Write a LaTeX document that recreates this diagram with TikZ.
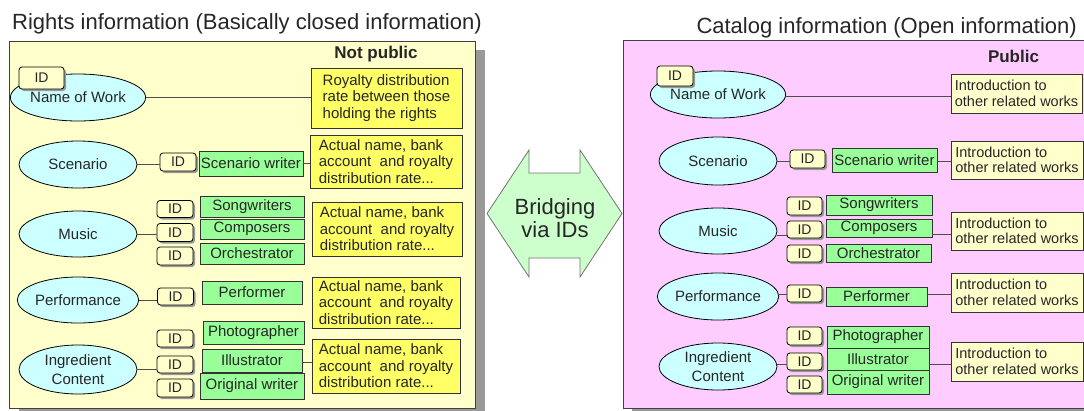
\documentclass[tikz,border=0pt]{standalone}
\usepackage{fontspec}
\setmainfont{Liberation Sans}
\usetikzlibrary{shapes.geometric,shadows}
\definecolor{panelY}{HTML}{FFFFCC}
\definecolor{panelP}{HTML}{FFCCFF}
\definecolor{ellC}{HTML}{CCFFFF}
\definecolor{grn}{HTML}{99FF99}
\definecolor{yel}{HTML}{FFFF66}
\definecolor{idY}{HTML}{FFFFCC}
\definecolor{shd}{HTML}{999999}
\definecolor{brg}{HTML}{CCFFCC}
\definecolor{txt}{HTML}{262626}
\definecolor{lnc}{HTML}{4D4D4D}
\newcommand\myfs[2]{\fontsize{#1}{#2}\selectfont}
\tikzset{
  panelL/.style={draw=black!75, fill=panelY, line width=1pt},
  panelR/.style={draw=black!75, fill=panelP, line width=1pt},
  titletext/.style={inner sep=0pt, text=txt, font=\myfs{22}{24}},
  lbl/.style={inner sep=0pt, text=txt, font=\myfs{17}{19}\bfseries},
  ell/.style={ellipse, draw=black, fill=ellC, line width=0.8pt, inner sep=0pt, text=txt, font=\myfs{15}{19}, align=center},
  idbox/.style={rectangle, rounded corners=3pt, draw=black, fill=idY, line width=0.8pt, inner sep=0pt, text=txt, font=\myfs{14}{16},
     drop shadow={shadow xshift=2pt, shadow yshift=-2pt, fill=shd, opacity=1}},
  gbox/.style={rectangle, draw=black!80, fill=grn, line width=0.8pt, inner sep=0pt, text=txt, font=\myfs{15}{17}},
  ybox/.style={rectangle, draw=black!80, fill=yel, line width=0.8pt, inner sep=0pt, text=txt, font=\myfs{15}{16.5}, align=left},
  ibox/.style={rectangle, draw=black!80, fill=idY, line width=0.8pt, inner sep=0pt, text=txt, font=\myfs{14.5}{15.5}, align=left},
  conn/.style={draw=lnc, line width=1pt},
  bridge/.style={draw=black!55, fill=brg, line width=0.8pt},
  brtext/.style={inner sep=0pt, text=txt, font=\myfs{22}{22.5}, align=center}
}
\begin{document}
\begin{tikzpicture}[x=1pt,y=-1pt]
\useasboundingbox (0,0) rectangle (1084,410);
% panels
\fill[shd] (19,50) rectangle (485,420);
\draw[panelL] (9,41) rectangle (475,408);
\fill[shd] (632,49) rectangle (1100,418);
\draw[panelR] (623,40) rectangle (1095,408);
% titles
\node[titletext, anchor=base west] (tL) at (12,29) {Rights information (Basically closed information)};
\node[titletext, anchor=base east] (tR) at (1077,33) {Catalog information (Open information)};
\node[lbl] (np) at (376,54) {Not public};
\node[lbl] (pub) at (1013.5,56) {Public};
% ---------------- left panel ----------------
\node[ell, minimum width=118, minimum height=47] (e1) at (78,97.5) {Name of Work};
\node[idbox, minimum width=45, minimum height=22] (id1) at (41.5,78) {ID};
\node[ybox, minimum width=151, minimum height=60] (r1) at (386.5,98) {Royalty distribution\\rate between those\\holding the rights};
\draw[conn] (e1.east) -- (e1.east -| r1.west);

\node[ell, minimum width=118, minimum height=47] (e2) at (78,164.5) {Scenario};
\node[idbox, minimum width=36, minimum height=18] (id2) at (178,162) {ID};
\node[gbox, minimum width=104, minimum height=25] (g2) at (251,163.5) {Scenario writer};
\node[ybox, minimum width=152, minimum height=53] (r2) at (386,161.5) {Actual name, bank\\account~ and royalty\\distribution rate...};
\draw[conn] (e2.east) -- (e2.east -| id2.west);
\draw[conn] (g2.east) -- (g2.east -| r2.west);

\node[ell, minimum width=118, minimum height=46] (e3) at (78,234) {Music};
\node[idbox, minimum width=36, minimum height=17] (id3a) at (175,209) {ID};
\node[idbox, minimum width=36, minimum height=18] (id3b) at (175,232.5) {ID};
\node[idbox, minimum width=36, minimum height=18] (id3c) at (175,256) {ID};
\node[gbox, minimum width=104, minimum height=21] (g3a) at (252,206.5) {Songwriters};
\node[gbox, minimum width=104, minimum height=20] (g3b) at (252,229) {Composers};
\node[gbox, minimum width=104, minimum height=21] (g3c) at (252,253.5) {Orchestrator};
\node[ybox, minimum width=150, minimum height=54] (r3) at (387,229) {Actual name, bank\\account~ and royalty\\distribution rate...};
\draw[conn] (e3.east) -- (e3.east -| id3b.west);

\node[ell, minimum width=118, minimum height=46] (e4) at (78,300) {Performance};
\node[idbox, minimum width=36, minimum height=17] (id4) at (175.5,296.5) {ID};
\node[gbox, minimum width=100, minimum height=23] (g4) at (252,292.5) {Performer};
\node[ybox, minimum width=148, minimum height=51] (r4) at (386,302.5) {Actual name, bank\\account~ and royalty\\distribution rate...};
\draw[conn] (e4.east) -- (e4.east -| id4.west);

\node[ell, minimum width=118, minimum height=49] (e5) at (78,369.5) {Ingredient\\Content};
\node[idbox, minimum width=36, minimum height=17] (id5a) at (175,338.5) {ID};
\node[idbox, minimum width=36, minimum height=17] (id5b) at (175,364.5) {ID};
\node[idbox, minimum width=36, minimum height=18] (id5c) at (175,388) {ID};
\node[gbox, minimum width=101, minimum height=23] (g5a) at (253.5,332.5) {Photographer};
\node[gbox, minimum width=100, minimum height=23] (g5b) at (252,360.5) {Illustrator};
\node[gbox, minimum width=104, minimum height=26] (g5c) at (252,386) {Original writer};
\node[ybox, minimum width=148, minimum height=54] (r5) at (386,366) {Actual name, bank\\account~ and royalty\\distribution rate...};
\draw[conn] (e5.east) -- (e5.east -| id5b.west);
\draw[conn] ([yshift=-1.5pt]g5b.east) -- ([yshift=-1.5pt]g5b.east -| r5.west);

% ---------------- bridge ----------------
\draw[bridge] (487,213.5) -- (529,150) -- (529,173) -- (580,173) -- (580,150) -- (622,213.5)
  -- (580,277) -- (580,258) -- (529,258) -- (529,277) -- cycle;
\node[brtext] (bt) at (555,218) {Bridging\\via IDs};

% ---------------- right panel ----------------
\node[ell, minimum width=118, minimum height=47] (E1) at (718,94.5) {Name of Work};
\node[idbox, minimum width=36, minimum height=20] (ID1) at (675,76) {ID};
\node[ibox, minimum width=131, minimum height=39] (I1) at (1016.5,93.5) {Introduction to\\other related works};
\draw[conn] ([yshift=-1.5pt]E1.east) -- ([yshift=-1.5pt]E1.east -| I1.west);

\node[ell, minimum width=118, minimum height=48] (E2) at (718,161) {Scenario};
\node[idbox, minimum width=35, minimum height=18] (ID2) at (807.5,159) {ID};
\node[gbox, minimum width=105, minimum height=24] (G2) at (884.5,160) {Scenario writer};
\node[ibox, minimum width=132, minimum height=38] (I2) at (1017,160) {Introduction to\\other related works};
\draw[conn] (E2.east) -- (E2.east -| ID2.west);
\draw[conn] ([yshift=-1pt]G2.east) -- ([yshift=-1pt]G2.east -| I2.west);

\node[ell, minimum width=118, minimum height=46] (E3) at (718,231) {Music};
\node[idbox, minimum width=35, minimum height=18] (ID3a) at (804.5,206) {ID};
\node[idbox, minimum width=35, minimum height=17] (ID3b) at (804.5,229.5) {ID};
\node[idbox, minimum width=35, minimum height=17] (ID3c) at (804.5,253.5) {ID};
\node[gbox, minimum width=106, minimum height=20] (G3a) at (879,205) {Songwriters};
\node[gbox, minimum width=106, minimum height=18] (G3b) at (879,228) {Composers};
\node[gbox, minimum width=105, minimum height=18] (G3c) at (878.5,253) {Orchestrator};
\node[ibox, minimum width=132, minimum height=38] (I3) at (1017,231) {Introduction to\\other related works};
\draw[conn] ([yshift=-4pt]E3.east) -- ([yshift=-4pt]E3.east -| ID3b.west);
\draw[conn] ([yshift=-6pt]G3b.east) -- ([yshift=-6pt]G3b.east -| I3.west);

\node[ell, minimum width=118, minimum height=47] (E4) at (718,296.5) {Performance};
\node[idbox, minimum width=35, minimum height=17] (ID4) at (804.5,293.5) {ID};
\node[gbox, minimum width=101, minimum height=19] (G4) at (876.5,296.5) {Performer};
\node[ibox, minimum width=132, minimum height=39] (I4) at (1017,292.5) {Introduction to\\other related works};
\draw[conn] ([yshift=2pt]E4.east) -- ([yshift=2pt]E4.east -| ID4.west);
\draw[conn] ([yshift=2pt]G4.east) -- ([yshift=2pt]G4.east -| I4.west);

\node[ell, minimum width=118, minimum height=47] (E5) at (718,366.5) {Ingredient\\Content};
\node[idbox, minimum width=35, minimum height=18] (ID5a) at (804.5,336) {ID};
\node[idbox, minimum width=35, minimum height=17] (ID5b) at (804.5,361.5) {ID};
\node[idbox, minimum width=35, minimum height=17] (ID5c) at (804.5,384.5) {ID};
\node[gbox, minimum width=102, minimum height=22] (G5a) at (878,337) {Photographer};
\node[gbox, minimum width=102, minimum height=22] (G5b) at (878,359) {Illustrator};
\node[gbox, minimum width=102, minimum height=24] (G5c) at (878,382) {Original writer};
\node[ibox, minimum width=132, minimum height=39] (I5) at (1017,361.5) {Introduction to\\other related works};
\draw[conn] ([yshift=2pt]E5.east) -- ([yshift=2pt]E5.east -| ID5b.west);
\draw[conn] ([yshift=-5pt]G5b.east) -- ([yshift=-5pt]G5b.east -| I5.west);
\end{tikzpicture}
\end{document}
